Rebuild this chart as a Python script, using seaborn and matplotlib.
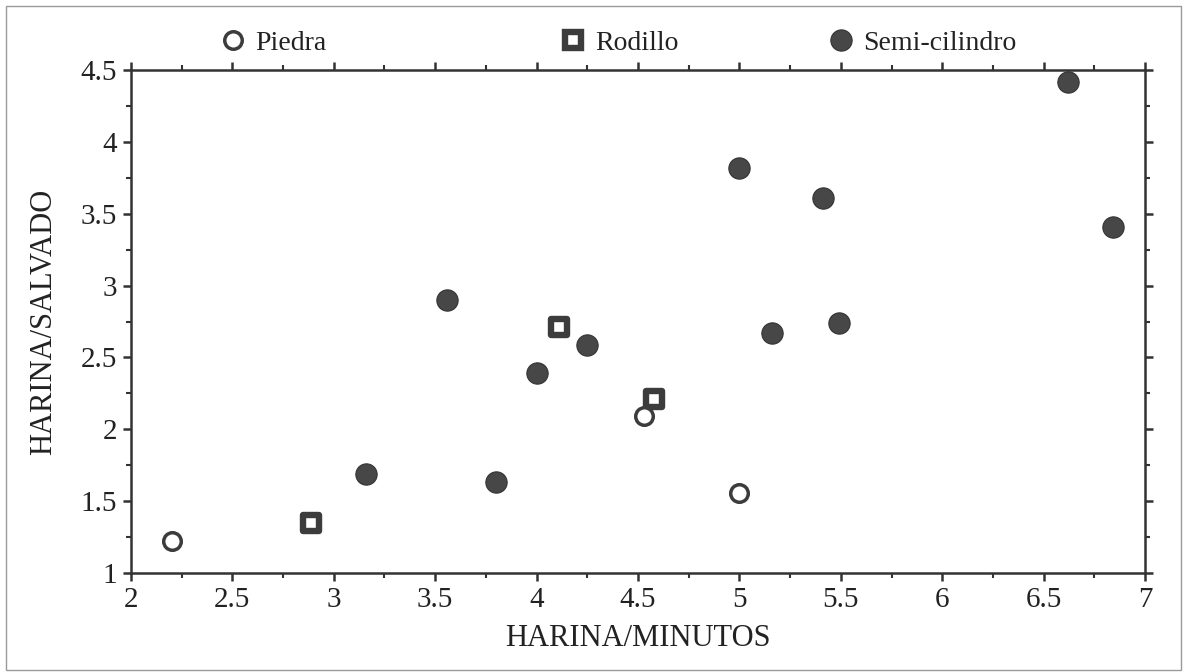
import matplotlib
matplotlib.use('Agg')
import matplotlib.pyplot as plt
import seaborn as sns
import pandas as pd
from matplotlib.ticker import MultipleLocator, FormatStrFormatter
from matplotlib.patches import Rectangle
from matplotlib.lines import Line2D

# Datos
piedra_x = [2.20, 4.53, 5.00]
piedra_y = [1.22, 2.09, 1.56]

rodillo_x = [2.89, 4.11, 4.58]
rodillo_y = [1.35, 2.71, 2.21]

semi_x = [3.16, 3.56, 3.80, 4.00, 4.25, 5.00, 5.16, 5.41, 5.49, 6.62, 6.84]
semi_y = [1.69, 2.90, 1.63, 2.39, 2.59, 3.82, 2.67, 3.61, 2.74, 4.42, 3.41]

grupos = ['Piedra', 'Rodillo', 'Semi-cilindro']

df_piedra = pd.DataFrame({'x': piedra_x, 'y': piedra_y})
df_rodillo = pd.DataFrame({'x': rodillo_x, 'y': rodillo_y})
df_semi = pd.DataFrame({'x': semi_x, 'y': semi_y})

sns.set_style('ticks')
plt.rcParams['font.family'] = ['Liberation Serif', 'DejaVu Serif']

gris = '#3c3c3c'

fig = plt.figure(figsize=(11.83, 6.72), dpi=100)
ax = fig.add_axes([0.1107, 0.1473, 0.8572, 0.7485])

# Rodillo: cuadrado con centro blanco
sns.scatterplot(data=df_rodillo, x='x', y='y', ax=ax, marker='s', s=125,
                facecolor='white', edgecolor=gris, linewidth=4.6, zorder=3)
# Piedra: círculo vacío
sns.scatterplot(data=df_piedra, x='x', y='y', ax=ax, marker='o', s=160,
                facecolor='white', edgecolor=gris, linewidth=2.5, zorder=4)
# Semi-cilindro: círculo relleno
sns.scatterplot(data=df_semi, x='x', y='y', ax=ax, marker='o', s=235,
                color='#474747', edgecolor='#333333', linewidth=0.8, zorder=5)

ax.set_xlim(2, 7)
ax.set_ylim(1, 4.5)
ax.xaxis.set_major_locator(MultipleLocator(0.5))
ax.xaxis.set_minor_locator(MultipleLocator(0.25))
ax.yaxis.set_major_locator(MultipleLocator(0.5))
ax.yaxis.set_minor_locator(MultipleLocator(0.25))
ax.xaxis.set_major_formatter(FormatStrFormatter('%g'))
ax.yaxis.set_major_formatter(FormatStrFormatter('%g'))

ax.tick_params(which='major', direction='out', length=6, width=1.8,
               color='#333333', labelsize=21, labelcolor='#222222',
               top=True, right=True, pad=4)
ax.tick_params(which='minor', direction='out', length=3.5, width=1.5,
               color='#333333', top=True, right=True)
for sp in ax.spines.values():
    sp.set_visible(True)
    sp.set_linewidth(1.8)
    sp.set_color('#333333')

ax.set_xlabel('HARINA/MINUTOS', fontsize=22, color='#222222', labelpad=8)
ax.set_ylabel('HARINA/SALVADO', fontsize=22, color='#222222', labelpad=16)

# Leyenda en tres bloques sobre el gráfico
handles = [
    Line2D([], [], ls='none', marker='o', markersize=12.6, markerfacecolor='white',
           markeredgecolor=gris, markeredgewidth=2.5),
    Line2D([], [], ls='none', marker='s', markersize=11.2, markerfacecolor='white',
           markeredgecolor=gris, markeredgewidth=4.6),
    Line2D([], [], ls='none', marker='o', markersize=15.3, markerfacecolor='#474747',
           markeredgecolor='#333333', markeredgewidth=0.8),
]
pos_x = [0.185, 0.4725, 0.699]
for h, nombre, px in zip(handles, grupos, pos_x):
    leg = fig.legend([h], [nombre], loc='center left', bbox_to_anchor=(px, 0.936),
                     frameon=False, fontsize=20, handlelength=1.0,
                     handletextpad=0.3, borderpad=0, borderaxespad=0)
    for t in leg.get_texts():
        t.set_color('#222222')

# Marco exterior del escaneo
fig.patches.append(Rectangle((6 / 1183, 2 / 672), 1175 / 1183, 664 / 672,
                             transform=fig.transFigure, fill=False,
                             edgecolor='#9a9a9a', linewidth=1.0))

fig.savefig('out.png', dpi=100)
